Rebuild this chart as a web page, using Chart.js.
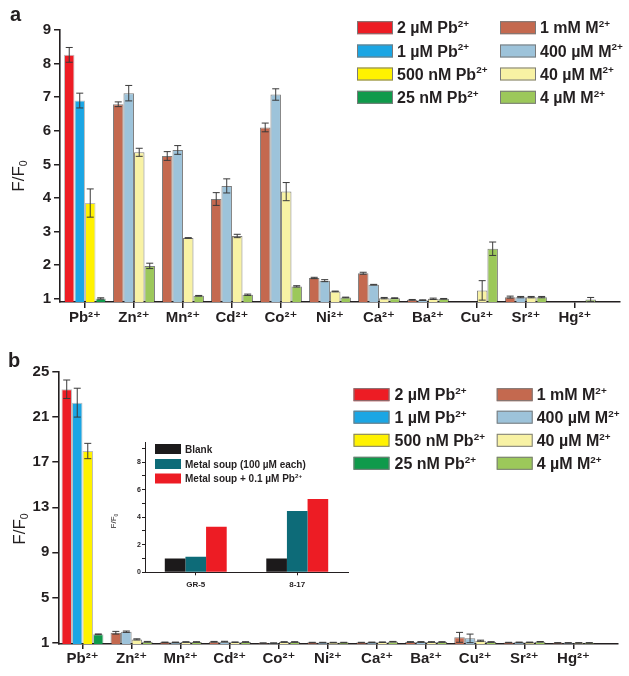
<!DOCTYPE html>
<html><head><meta charset="utf-8">
<script src="https://cdn.jsdelivr.net/npm/chart.js@4.4.1/dist/chart.umd.min.js"></script>
<style>
html,body{margin:0;padding:0;background:#fff;}
#wrap{position:relative;width:629px;height:676px;overflow:hidden;background:#fff;}
canvas{position:absolute;}
.lbl{position:absolute;font-family:'Liberation Sans',Arial,sans-serif;font-weight:bold;font-size:20px;line-height:20px;color:#231f20;}
</style></head><body>
<div id="wrap">
<canvas id="ca" width="629" height="335" style="left:0;top:0"></canvas>
<canvas id="cb" width="629" height="341" style="left:0;top:335px"></canvas>
<canvas id="ci" width="260" height="170" style="left:100px;top:430px"></canvas>
<div class="lbl" style="left:10px;top:3.6px">a</div>
<div class="lbl" style="left:8px;top:350px">b</div>
</div>
<script>
// ---------------- data ----------------
const categories = ['Pb²⁺','Zn²⁺','Mn²⁺','Cd²⁺','Co²⁺','Ni²⁺','Ca²⁺','Ba²⁺','Cu²⁺','Sr²⁺','Hg²⁺'];
const pbLegend = ['2 µM Pb²⁺','1 µM Pb²⁺','500 nM Pb²⁺','25 nM Pb²⁺'];
const mLegend  = ['1 mM M²⁺','400 µM M²⁺','40 µM M²⁺','4 µM M²⁺'];
const yTitle = 'F/F₀';

// panel a (slot 1..4: Pb series at Pb²⁺, M series elsewhere)
const aSlot1 = [8.26, 6.79, 5.25, 3.97, 6.10, 1.62, 1.76, 0.97, null, 1.05, null];
const aErr1  = [0.22, 0.07, 0.13, 0.19, 0.13, 0.02, 0.03, 0.01, null, 0.03, null];
const aSlot2 = [6.90, 7.12, 5.43, 4.36, 7.08, 1.54, 1.42, 0.96, null, 1.05, null];
const aErr2  = [0.22, 0.23, 0.13, 0.21, 0.17, 0.03, 0.01, 0.01, null, 0.02, null];
const aSlot3 = [3.85, 5.36, 2.81, 2.87, 4.19, 1.22, 1.02, 1.00, 1.25, 1.05, null];
const aErr3  = [0.42, 0.12, 0.01, 0.05, 0.27, 0.01, 0.02, 0.02, 0.29, 0.02, null];
const aSlot4 = [1.01, 1.98, 1.09, 1.12, 1.37, 1.04, 1.02, 1.00, 2.49, 1.05, 0.98];
const aErr4  = [0.02, 0.08, 0.01, 0.02, 0.02, 0.01, 0.01, 0.01, 0.20, 0.02, 0.06];
const aTicks = [1, 2, 3, 4, 5, 6, 7, 8, 9];

// panel b
const bSlot1 = [23.47, 1.87, 1.02, 1.07, 0.95, 1.00, 1.00, 1.05, 1.46, 1.00, 0.97];
const bErr1  = [0.82, 0.12, 0.02, 0.03, 0.02, 0.02, 0.02, 0.03, 0.44, 0.02, 0.02];
const bSlot2 = [22.28, 1.96, 1.02, 1.08, 0.95, 1.00, 1.02, 1.05, 1.37, 1.02, 0.97];
const bErr2  = [1.28, 0.06, 0.02, 0.03, 0.02, 0.02, 0.02, 0.03, 0.38, 0.02, 0.02];
const bSlot3 = [17.99, 1.28, 1.05, 1.03, 1.05, 1.00, 1.03, 1.05, 1.16, 1.02, 0.97];
const bErr3  = [0.68, 0.05, 0.02, 0.02, 0.02, 0.02, 0.02, 0.02, 0.05, 0.02, 0.02];
const bSlot4 = [1.73, 1.07, 1.05, 1.05, 1.05, 1.00, 1.08, 1.05, 1.05, 1.07, 0.97];
const bErr4  = [0.03, 0.03, 0.02, 0.02, 0.02, 0.02, 0.02, 0.02, 0.02, 0.02, 0.02];
const bTicks = [1, 5, 9, 13, 17, 21, 25];

// inset
const insetCategories = ['GR-5', '8-17'];
const insetLegend = ['Blank', 'Metal soup (100 µM each)', 'Metal soup + 0.1 µM Pb²⁺'];
const insetBlank = [1.00, 1.00];
const insetSoup = [1.13, 4.44];
const insetSoupPb = [3.31, 5.32];
const insetMajorTicks = [0, 2, 4, 6, 8];
const insetMinorTicks = [1, 3, 5, 7, 9];

// ---------------- styles ----------------
const FAMILY = "'Liberation Sans', Arial, 'DejaVu Sans', sans-serif";
const INK = '#231f20';
const pbColors = ['#ed1c24', '#1ba6e4', '#fff200', '#0f9a4b'];
const mColors  = ['#c4694f', '#9dc3da', '#f8f2a4', '#9cc85a'];
const insetColors = ['#1c1a1b', '#0d6b78', '#ed1c24'];

// ---------------- rich text helpers ----------------
const SUP = {'²':'2','⁺':'+'};
const SUB = {'₀':'0'};
function runs(text){
  const out = [];
  for (const ch of text){
    const t = SUP[ch] ? 'sup' : SUB[ch] ? 'sub' : 'n';
    const c = SUP[ch] || SUB[ch] || ch;
    if (out.length && out[out.length-1].t === t) out[out.length-1].s += c;
    else out.push({t, s:c});
  }
  return out;
}
function richWidth(ctx, text, size, weight){
  let w = 0;
  for (const r of runs(text)){
    ctx.font = `${weight} ${r.t==='n'?size:size*0.62}px ${FAMILY}`;
    w += ctx.measureText(r.s).width;
  }
  return w;
}
function drawRich(ctx, x, yMid, text, size, weight, color){
  const base = yMid + size*0.716/2;
  ctx.fillStyle = color; ctx.textBaseline = 'alphabetic'; ctx.textAlign = 'left';
  let cx = x;
  for (const r of runs(text)){
    const s = r.t==='n' ? size : size*0.62;
    ctx.font = `${weight} ${s}px ${FAMILY}`;
    const dy = r.t==='sup' ? -size*0.40 : r.t==='sub' ? size*0.2 : 0;
    ctx.fillText(r.s, cx, base + dy);
    cx += ctx.measureText(r.s).width;
  }
}

// ---------------- plugins ----------------
const errorBars = {
  id: 'errorBars',
  afterDatasetsDraw(chart){
    const ctx = chart.ctx, ys = chart.scales.y;
    chart.data.datasets.forEach((ds, di) => {
      if (!ds.errors) return;
      const meta = chart.getDatasetMeta(di);
      meta.data.forEach((bar, i) => {
        const e = ds.errors[i], p = ds.data[i];
        if (e == null || p == null || p.y == null) return;
        const x = bar.x;
        const yt = ys.getPixelForValue(p.y + e), yb = ys.getPixelForValue(p.y - e);
        ctx.save();
        ctx.strokeStyle = '#3a3a3a'; ctx.lineWidth = 1;
        ctx.beginPath();
        ctx.moveTo(x, yt); ctx.lineTo(x, yb);
        ctx.moveTo(x-3.5, yt); ctx.lineTo(x+3.5, yt);
        ctx.moveTo(x-3.5, yb); ctx.lineTo(x+3.5, yb);
        ctx.stroke();
        ctx.restore();
      });
    });
  }
};
function legendPlugin(cfg){
  return {
    id: 'richLegend',
    afterDraw(chart){
      const ctx = chart.ctx;
      ctx.save();
      cfg.items.forEach(it => {
        ctx.fillStyle = it.color;
        ctx.fillRect(it.boxX, it.y - cfg.boxH/2, cfg.boxW, cfg.boxH);
        if (cfg.boxBorder){
          ctx.strokeStyle = cfg.boxBorder; ctx.lineWidth = 1;
          ctx.strokeRect(it.boxX+0.5, it.y - cfg.boxH/2 + 0.5, cfg.boxW-1, cfg.boxH-1);
        }
        drawRich(ctx, it.textX, it.y, it.text, cfg.size, 'bold', INK);
      });
      ctx.restore();
    }
  };
}
function titlePlugin(cfg){
  return {
    id: 'yTitle',
    afterDraw(chart){
      const ctx = chart.ctx;
      ctx.save();
      ctx.translate(cfg.x, cfg.y);
      ctx.rotate(-Math.PI/2);
      const w = richWidth(ctx, cfg.text, cfg.size, cfg.weight);
      drawRich(ctx, -w/2, 0, cfg.text, cfg.size, cfg.weight, INK);
      ctx.restore();
    }
  };
}
function fixedSize(w){ return s => { s.width = w; }; }
function fixedHeight(h){ return s => { s.height = h; }; }

// ---------------- main panels ----------------
function mainChart(id, slots, errs, yTicks, L){
  const datasets = slots.map((vals, s) => ({
    data: vals.map((v, i) => ({x: i+1, y: v})),
    errors: errs[s],
    backgroundColor: vals.map((v, i) => i === 0 ? pbColors[s] : mColors[s]),
    borderColor: vals.map((v, i) => i === 0 ? 'rgba(40,40,40,0.3)' : 'rgba(40,40,40,0.6)'),
    borderWidth: 1,
    base: L.yMin,
    categoryPercentage: 0.857,
    barPercentage: 1
  }));
  const items = [];
  for (let r = 0; r < 4; r++){
    items.push({boxX: L.leg.c1Box, textX: L.leg.c1Text, y: L.leg.rows[r], color: pbColors[r], text: pbLegend[r]});
    items.push({boxX: L.leg.c2Box, textX: L.leg.c2Text, y: L.leg.rows[r], color: mColors[r], text: mLegend[r]});
  }
  const tickFont = {family: FAMILY, size: 15, weight: 'bold'};
  return new Chart(document.getElementById(id), {
    type: 'bar',
    data: {datasets},
    options: {
      responsive: false, animation: false, events: [],
      layout: {padding: L.pad},
      plugins: {legend: {display: false}, tooltip: {enabled: false}},
      scales: {
        x: {
          type: 'linear', min: L.xMin, max: L.xMax, offset: false,
          afterBuildTicks: s => { s.ticks = categories.map((c, i) => ({value: i+1})); },
          afterFit: fixedHeight(L.xH),
          ticks: {autoSkip: false, maxRotation: 0, padding: L.xPad, color: INK, font: tickFont,
                  callback: v => categories[Math.round(v)-1] ?? ''},
          grid: {drawOnChartArea: false, drawTicks: true, offset: false, tickLength: L.xTick, color: INK, lineWidth: 1.5},
          border: {display: true, color: INK, width: 1.6}
        },
        y: {
          type: 'linear', min: L.yMin, max: L.yMax, beginAtZero: false,
          afterBuildTicks: s => { s.ticks = yTicks.map(v => ({value: v})); },
          afterFit: fixedSize(L.yW),
          ticks: {padding: 3, color: INK, font: tickFont},
          grid: {drawOnChartArea: false, drawTicks: true, tickLength: 6, color: INK, lineWidth: 1.5},
          border: {display: true, color: INK, width: 1.6}
        }
      }
    },
    plugins: [errorBars,
      legendPlugin({items, boxW: L.leg.boxW, boxH: 13, size: 16, boxBorder: '#7a7a7a'}),
      titlePlugin({text: yTitle, x: L.title.x, y: L.title.y, size: 17, weight: 'normal'})]
  });
}

mainChart('ca', [aSlot1, aSlot2, aSlot3, aSlot4], [aErr1, aErr2, aErr3, aErr4], aTicks, {
  yMin: 0.905, yMax: 9, xMin: 0.49, xMax: 11.92,
  pad: {left: 0, right: 9, top: 30, bottom: 0}, yW: 60, xH: 33, xTick: 6, xPad: 1,
  leg: {c1Box: 357, c1Text: 397, c2Box: 500, c2Text: 540, rows: [27.7, 51, 74, 97.3], boxW: 36},
  title: {x: 18, y: 176}
});

mainChart('cb', [bSlot1, bSlot2, bSlot3, bSlot4], [bErr1, bErr2, bErr3, bErr4], bTicks, {
  yMin: 0.87, yMax: 25, xMin: 0.507, xMax: 11.906,
  pad: {left: 0, right: 11, top: 37, bottom: 0}, yW: 58.3, xH: 32, xTick: 5, xPad: 1,
  leg: {c1Box: 353.5, c1Text: 394.5, c2Box: 496.7, c2Text: 536.7, rows: [59.7, 82.2, 105.3, 128.3], boxW: 36},
  title: {x: 18.5, y: 194}
});

// ---------------- inset ----------------
(function(){
  const sets = [insetBlank, insetSoup, insetSoupPb];
  const datasets = sets.map((vals, s) => ({
    data: vals, backgroundColor: insetColors[s], borderWidth: 0,
    categoryPercentage: 0.61, barPercentage: 1
  }));
  const items = insetLegend.map((t, r) => ({boxX: 55, textX: 85, y: [19, 34, 48.5][r], color: insetColors[r], text: t}));
  new Chart(document.getElementById('ci'), {
    type: 'bar',
    data: {labels: insetCategories, datasets},
    options: {
      responsive: false, animation: false, events: [],
      layout: {padding: {left: 0, right: 12, top: 12.3, bottom: 0}},
      plugins: {legend: {display: false}, tooltip: {enabled: false}},
      scales: {
        x: {
          afterFit: fixedHeight(27.7),
          ticks: {padding: 5, color: INK, font: {family: FAMILY, size: 8, weight: 'bold'}},
          grid: {drawOnChartArea: false, drawTicks: true, offset: false, tickLength: 3, color: INK, lineWidth: 1},
          border: {display: true, color: INK, width: 1}
        },
        y: {
          min: 0, max: 9.43, beginAtZero: false,
          afterBuildTicks: s => { s.ticks = insetMajorTicks.concat(insetMinorTicks).sort((a,b)=>a-b).map(v => ({value: v})); },
          afterFit: fixedSize(45),
          ticks: {padding: 1, color: INK, font: {family: FAMILY, size: 7, weight: 'bold'},
                  callback: v => insetMajorTicks.includes(v) ? String(v) : ''},
          grid: {drawOnChartArea: false, drawTicks: true, tickLength: 3, color: INK, lineWidth: 1},
          border: {display: true, color: INK, width: 1}
        }
      }
    },
    plugins: [legendPlugin({items, boxW: 26, boxH: 10, size: 10}),
              titlePlugin({text: yTitle, x: 13.5, y: 91, size: 8, weight: 'normal'})]
  });
})();
</script>
</body></html>
